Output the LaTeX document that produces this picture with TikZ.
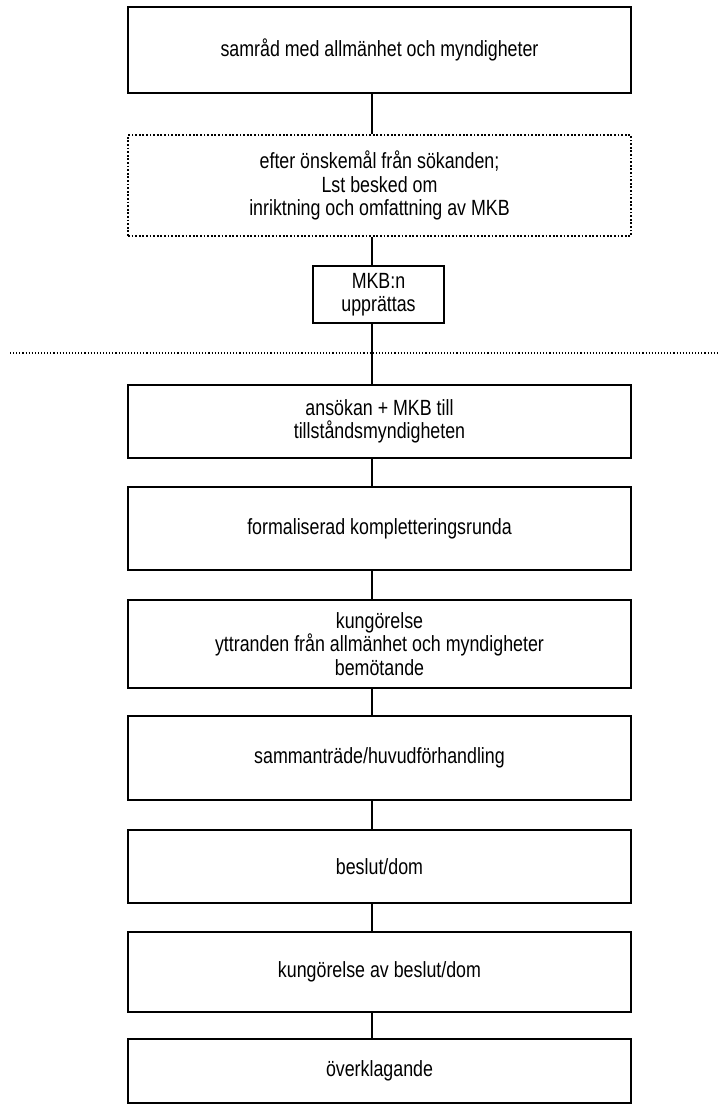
\documentclass[tikz,border=0pt]{standalone}
\usepackage{fontspec}
\setmainfont{Liberation Sans}[FakeStretch=0.81]
\begin{document}
\begin{tikzpicture}[x=1pt,y=-1pt,
  box/.style={draw, line width=1.8pt, rectangle, inner sep=0pt, align=center,
    font=\fontsize{22}{23.5}\selectfont, minimum width=503pt},
  dotbox/.style={box, dash pattern=on 1.8pt off 1.8pt},
  smallbox/.style={box, minimum width=131pt},
  link/.style={line width=1.8pt},
  sepline/.style={line width=1.1pt, dash pattern=on 1.1pt off 2pt}]
\fill[white] (0,0) rectangle (720,1104);
\useasboundingbox (0,0) rectangle (720,1104);
\node[box, minimum height=86pt] (b1) at (379.5,50) {samråd med allmänhet och myndigheter};
\node[dotbox, minimum height=101pt] (b2) at (379.5,185.5) {efter önskemål från sökanden;\\Lst besked om\\inriktning och omfattning av MKB};
\node[smallbox, minimum height=57pt] (b3) at (378.5,294.5) {MKB:n\\upprättas};
\node[box, minimum height=73pt] (b4) at (379.5,421.5) {ansökan + MKB till\\tillståndsmyndigheten};
\node[box, minimum height=83pt] (b5) at (379.5,528.5) {formaliserad kompletteringsrunda};
\node[box, minimum height=88pt] (b6) at (379.5,644) {kungörelse\\yttranden från allmänhet och myndigheter\\bemötande};
\node[box, minimum height=84pt] (b7) at (379.5,758) {sammanträde/huvudförhandling};
\node[box, minimum height=73pt] (b8) at (379.5,866.5) {beslut/dom};
\node[box, minimum height=80pt] (b9) at (379.5,972) {kungörelse av beslut/dom};
\node[box, minimum height=64pt] (b10) at (379.5,1071) {överklagande};
\coordinate (spine) at (372,0);
\draw[link] (b1.south -| spine) -- (b2.north -| spine);
\draw[link] (b2.south -| spine) -- (b3.north -| spine);
\draw[link] (b3.south -| spine) -- (b4.north -| spine);
\draw[link] (b4.south -| spine) -- (b5.north -| spine);
\draw[link] (b5.south -| spine) -- (b6.north -| spine);
\draw[link] (b6.south -| spine) -- (b7.north -| spine);
\draw[link] (b7.south -| spine) -- (b8.north -| spine);
\draw[link] (b8.south -| spine) -- (b9.north -| spine);
\draw[link] (b9.south -| spine) -- (b10.north -| spine);
\coordinate (hl) at (10,353);
\coordinate (hr) at (717,353);
\draw[sepline] (hl) -- (hr);
\end{tikzpicture}
\end{document}
